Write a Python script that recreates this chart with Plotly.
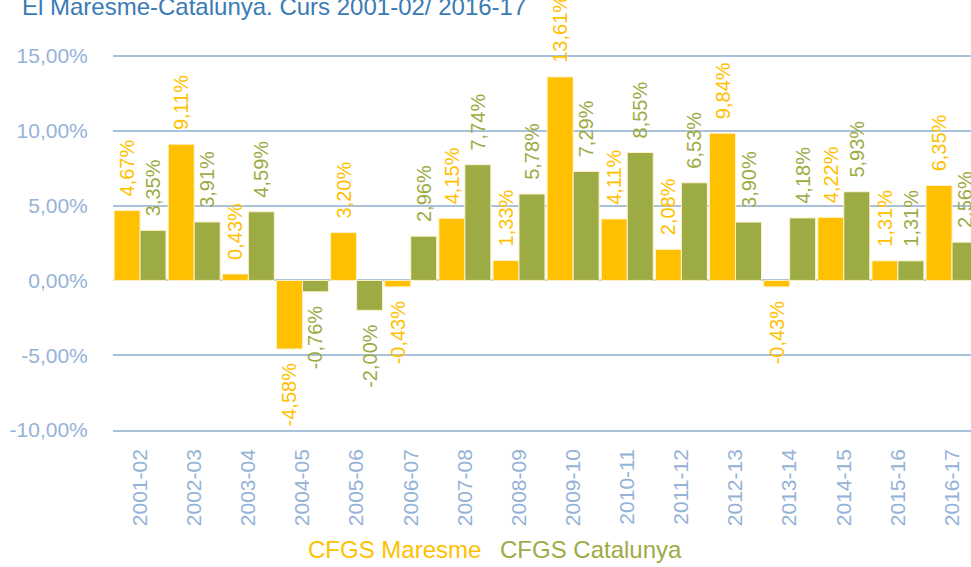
import plotly.graph_objects as go

categories = ["2001-02", "2002-03", "2003-04", "2004-05", "2005-06", "2006-07", "2007-08", "2008-09",
              "2009-10", "2010-11", "2011-12", "2012-13", "2013-14", "2014-15", "2015-16", "2016-17"]
maresme = [4.67, 9.11, 0.43, -4.58, 3.20, -0.43, 4.15, 1.33, 13.61, 4.11, 2.08, 9.84, -0.43, 4.22, 1.31, 6.35]
catalunya = [3.35, 3.91, 4.59, -0.76, -2.00, 2.96, 7.74, 5.78, 7.29, 8.55, 6.53, 3.90, 4.18, 5.93, 1.31, 2.56]
tick_vals = [-10, -5, 0, 5, 10, 15]
tick_text = ["-10,00%", "-5,00%", "0,00%", "5,00%", "10,00%", "15,00%"]

FONT = "Liberation Sans, Arial, sans-serif"
GOLD = "#FFC000"
GREEN = "#9DAB45"
AXIS = "#95B3D7"
GRID = "#A9C2D9"
PAD = "\u00a0\u00a0"

def fmt(v):
    s = ("%.2f" % v).replace(".", ",") + "%"
    return PAD + s if v >= 0 else s + PAD

fig = go.Figure()
for name, vals, col in [("CFGS Maresme", maresme, GOLD), ("CFGS Catalunya", catalunya, GREEN)]:
    fig.add_trace(go.Bar(
        x=categories, y=vals, name=name,
        marker=dict(color=col, line=dict(color="#FFF2CC", width=1)),
        text=[fmt(v) for v in vals], textposition="outside", textangle=-90,
        textfont=dict(family=FONT, size=20, color=col),
        constraintext="none", cliponaxis=True, showlegend=False,
        hoverinfo="skip",
    ))

fig.update_layout(
    width=971, height=567,
    margin=dict(l=113, r=0, t=0, b=137),
    barmode="group", bargap=0.04, bargroupgap=0,
    plot_bgcolor="white", paper_bgcolor="white",
    font=dict(family=FONT),
    xaxis=dict(type="category", range=[-0.5, 15.35], tickangle=-90, showgrid=False,
               tickfont=dict(family=FONT, size=21, color=AXIS),
               showline=True, linecolor=GRID, linewidth=1.5,
               ticks="outside", ticklen=9, tickcolor="rgba(0,0,0,0)",
               automargin=False),
    yaxis=dict(range=[-10, 18.75], tickvals=tick_vals, ticktext=tick_text,
               showgrid=True, gridcolor=GRID, gridwidth=1.5, zeroline=True,
               zerolinecolor=GRID, zerolinewidth=1.5,
               ticks="outside", ticklen=20, tickcolor="rgba(0,0,0,0)",
               tickfont=dict(family=FONT, size=21, color=AXIS), automargin=False),
)

fig.add_annotation(text="El Maresme-Catalunya. Curs 2001-02/ 2016-17", xref="paper", yref="paper",
                   x=0, xanchor="left", xshift=-93, y=1, yanchor="middle", yshift=-6,
                   showarrow=False, font=dict(family=FONT, size=24, color="#3A7BB5"))
fig.add_annotation(text="CFGS Maresme", xref="paper", yref="paper", x=0, xshift=193, xanchor="left",
                   y=0, yanchor="middle", yshift=-119, showarrow=False,
                   font=dict(family=FONT, size=24, color=GOLD))
fig.add_annotation(text="CFGS Catalunya", xref="paper", yref="paper", x=0, xshift=385, xanchor="left",
                   y=0, yanchor="middle", yshift=-119, showarrow=False,
                   font=dict(family=FONT, size=24, color=GREEN))

fig.write_html("out.html", config={"displayModeBar": False},
               post_script="document.body.style.margin='0';document.body.style.overflow='hidden';")
